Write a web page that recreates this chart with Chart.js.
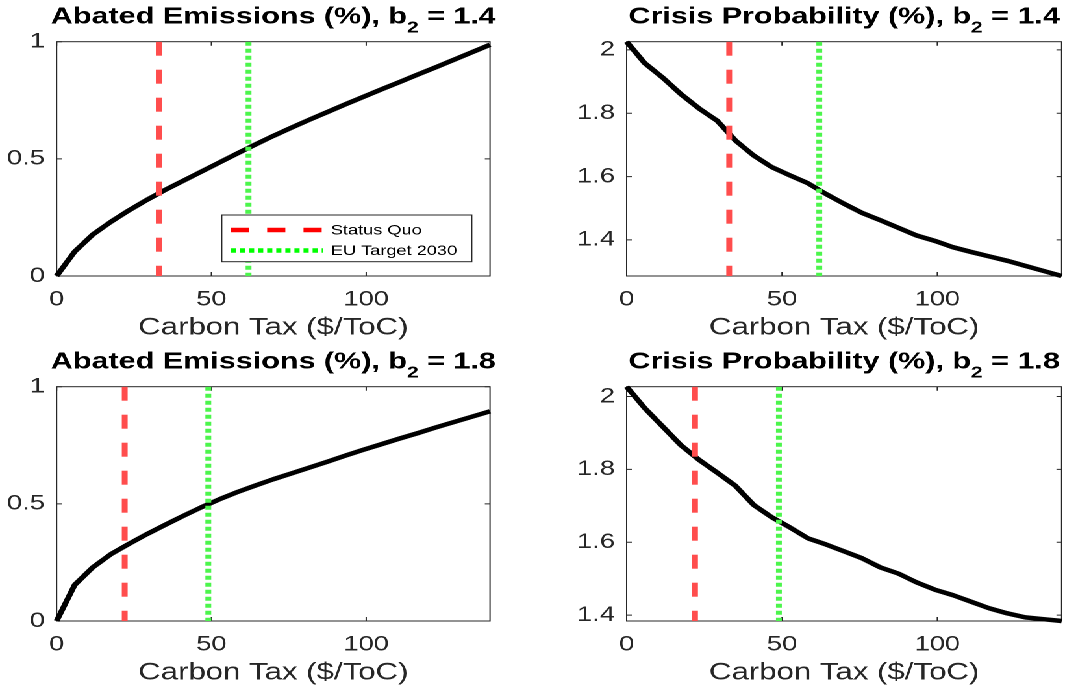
<!DOCTYPE html>
<html>
<head>
<meta charset="utf-8">
<script src="https://cdn.jsdelivr.net/npm/chart.js@4.4.1/dist/chart.umd.min.js"></script>
<style>
  html, body { margin: 0; padding: 0; background: #fff; overflow: hidden; }
  /* figure is laid out at 820px and widened to the 1065px page */
  #stage { position: absolute; left: 0; top: 0; width: 820px; height: 691px;
           transform: scaleX(1.29878); transform-origin: 0 0; }
  .panel { position: absolute; width: 410px; height: 345px; }
</style>
</head>
<body>
<div id="stage">
  <div class="panel" style="left:0;top:0"><canvas id="abated14"></canvas></div>
  <div class="panel" style="left:410px;top:0"><canvas id="crisis14"></canvas></div>
  <div class="panel" style="left:0;top:345px"><canvas id="abated18"></canvas></div>
  <div class="panel" style="left:410px;top:345px"><canvas id="crisis18"></canvas></div>
</div>
<script>
// Carbon tax grid ($/ToC)
const taxGrid = [0, 5.83, 11.67, 17.5, 23.33, 29.17, 35, 40.83, 46.67, 52.5, 58.33, 64.17,
                 70, 75.83, 81.67, 87.5, 93.33, 99.17, 105, 110.83, 116.67, 122.5, 128.33, 134.17, 140];

// Abated emissions (%)
const abatedB14 = [0, 0.104, 0.177, 0.231, 0.280, 0.325, 0.367, 0.406, 0.445, 0.484, 0.523, 0.561,
                   0.598, 0.633, 0.667, 0.700, 0.733, 0.765, 0.797, 0.828, 0.860, 0.891, 0.923, 0.955, 0.987];
const abatedB18 = [0, 0.154, 0.229, 0.285, 0.329, 0.371, 0.410, 0.448, 0.485, 0.519, 0.550, 0.578,
                   0.605, 0.630, 0.655, 0.680, 0.706, 0.731, 0.755, 0.779, 0.802, 0.826, 0.849, 0.872, 0.895];

// Crisis probability (%)
const crisisB14 = [2.026, 1.958, 1.912, 1.860, 1.815, 1.776, 1.714, 1.667, 1.630, 1.604, 1.579, 1.545,
                   1.514, 1.485, 1.462, 1.438, 1.414, 1.397, 1.377, 1.362, 1.348, 1.334, 1.318, 1.302, 1.286];
const crisisB18 = [2.027, 1.968, 1.917, 1.866, 1.826, 1.791, 1.755, 1.703, 1.669, 1.641, 1.611, 1.594,
                   1.575, 1.556, 1.531, 1.514, 1.490, 1.470, 1.455, 1.437, 1.419, 1.405, 1.394, 1.389, 1.384];

// Policy reference taxes, for b2 = 1.4 and b2 = 1.8
const b2Values = ['1.4', '1.8'];
const statusQuoTax = [33, 22];
const euTarget2030Tax = [62, 49];

// Tick labels
const taxTicks = [0, 50, 100];
const abatedTicks = [0, 0.5, 1];
const crisisTicks = [1.4, 1.6, 1.8, 2];

const FONT = '"Liberation Sans", Arial, Helvetica, sans-serif';
const AXIS_COLOR = '#262626';

// Box around the axes with inward tick marks on all four sides
const axesBox = {
  id: 'axesBox',
  beforeDatasetsDraw(chart) {
    const { ctx, chartArea: a, scales } = chart;
    const tl = 4;
    ctx.save();
    ctx.strokeStyle = AXIS_COLOR;
    ctx.lineWidth = 1;
    ctx.strokeRect(a.left, a.top, a.right - a.left, a.bottom - a.top);
    ctx.beginPath();
    scales.x.ticks.forEach(t => {
      const px = scales.x.getPixelForValue(t.value);
      ctx.moveTo(px, a.bottom); ctx.lineTo(px, a.bottom - tl);
      ctx.moveTo(px, a.top); ctx.lineTo(px, a.top + tl);
    });
    scales.y.ticks.forEach(t => {
      const py = scales.y.getPixelForValue(t.value);
      ctx.moveTo(a.left, py); ctx.lineTo(a.left + tl, py);
      ctx.moveTo(a.right, py); ctx.lineTo(a.right - tl, py);
    });
    ctx.stroke();
    ctx.restore();
  }
};

// Bold title with a subscript, centred over the axes
const panelTitle = {
  id: 'panelTitle',
  afterDraw(chart, args, opts) {
    const { ctx, chartArea: a } = chart;
    const main = 'bold 23.5px ' + FONT, sub = 'bold 16px ' + FONT;
    ctx.save();
    ctx.fillStyle = '#000';
    ctx.textBaseline = 'alphabetic';
    ctx.textAlign = 'left';
    ctx.font = main;
    const w1 = ctx.measureText(opts.lead).width;
    const w3 = ctx.measureText(opts.tail).width;
    ctx.font = sub;
    const w2 = ctx.measureText(opts.sub).width;
    let x = (a.left + a.right) / 2 - (w1 + w2 + w3) / 2;
    const y = 23.5;
    ctx.font = main; ctx.fillText(opts.lead, x, y); x += w1;
    ctx.font = sub; ctx.fillText(opts.sub, x, y + 9); x += w2;
    ctx.font = main; ctx.fillText(opts.tail, x, y);
    ctx.restore();
  }
};

// Boxed legend in the lower right of the axes
const boxLegend = {
  id: 'boxLegend',
  afterDraw(chart, args, opts) {
    if (!opts.show) return;
    const { ctx, chartArea: a } = chart;
    const w = 192.5, h = 46.7;
    const left = a.right - 14.1 - w, top = a.bottom - 14.3 - h;
    ctx.save();
    ctx.fillStyle = '#fff';
    ctx.fillRect(left, top, w, h);
    ctx.strokeStyle = AXIS_COLOR;
    ctx.lineWidth = 1;
    ctx.strokeRect(left, top, w, h);
    const items = chart.data.datasets.filter(d => d.legendColor);
    items.forEach((d, i) => {
      const cy = top + 15 + i * 20.5;
      ctx.beginPath();
      ctx.strokeStyle = d.legendColor;
      ctx.lineWidth = 4.5;
      ctx.lineCap = 'butt';
      ctx.setLineDash(d.borderDash);
      ctx.moveTo(left + 7, cy);
      ctx.lineTo(left + 78, cy);
      ctx.stroke();
      ctx.setLineDash([]);
      ctx.fillStyle = '#000';
      ctx.font = '14px ' + FONT;
      ctx.textBaseline = 'middle';
      ctx.fillText(d.label, left + 84, cy + 0.5);
    });
    ctx.restore();
  }
};

function makePanel(id, lead, b2, series, yTicks, yRange, sq, eu, yAxisWidth, rightPad, showLegend) {
  const [yMin, yMax] = yRange;
  new Chart(document.getElementById(id), {
    type: 'line',
    data: {
      datasets: [
        { label: 'Status Quo', data: [{ x: sq, y: yMax }, { x: sq, y: yMin }],
          borderColor: '#ff4d4d', legendColor: '#ff0000', borderWidth: 4.5,
          borderDash: [14, 14], borderCapStyle: 'butt', pointRadius: 0 },
        { label: 'EU Target 2030', data: [{ x: eu, y: yMax }, { x: eu, y: yMin }],
          borderColor: '#4cf54c', legendColor: '#00ff00', borderWidth: 4.5,
          borderDash: [4, 3], borderCapStyle: 'butt', pointRadius: 0 },
        { label: lead, data: taxGrid.map((x, i) => ({ x, y: series[i] })),
          borderColor: '#000', borderWidth: 4.5, pointRadius: 0, clip: false,
          borderJoinStyle: 'round', tension: 0 }
      ]
    },
    options: {
      responsive: true, maintainAspectRatio: false, animation: false,
      devicePixelRatio: 2,
      layout: { padding: { top: 41.7, right: rightPad, bottom: 0, left: 0 } },
      scales: {
        x: {
          type: 'linear', min: 0, max: 140,
          afterBuildTicks: s => { s.ticks = taxTicks.map(v => ({ value: v })); },
          afterFit: s => { s.height = 69; },
          grid: { display: false, drawTicks: false }, border: { display: false },
          ticks: { color: AXIS_COLOR, font: { family: FONT, size: 21 }, padding: 11,
                   maxRotation: 0, autoSkip: false, callback: v => String(v) },
          title: { display: true, text: 'Carbon Tax ($/ToC)', color: AXIS_COLOR,
                   font: { family: FONT, size: 24 }, padding: { top: 0, bottom: 2.5 } }
        },
        y: {
          type: 'linear', min: yMin, max: yMax,
          afterBuildTicks: s => { s.ticks = yTicks.map(v => ({ value: v })); },
          afterFit: s => { s.width = yAxisWidth; },
          grid: { display: false, drawTicks: false }, border: { display: false },
          ticks: { color: AXIS_COLOR, font: { family: FONT, size: 21 }, padding: 9,
                   autoSkip: false, callback: v => String(v) }
        }
      },
      plugins: {
        legend: { display: false },
        tooltip: { enabled: false },
        panelTitle: { lead: lead + ', b', sub: '2', tail: ' = ' + b2 },
        boxLegend: { show: showLegend }
      }
    },
    plugins: [axesBox, panelTitle, boxLegend]
  });
}

const abatedRange = [abatedTicks[0], abatedTicks[abatedTicks.length - 1]];
const crisisRange14 = [Math.min(...crisisB14), Math.max(...crisisB14)];
const crisisRange18 = [Math.min(...crisisB18), Math.max(...crisisB18)];

makePanel('abated14', 'Abated Emissions (%)', b2Values[0], abatedB14, abatedTicks, abatedRange,
          statusQuoTax[0], euTarget2030Tax[0], 43.6, 32.7, true);
makePanel('crisis14', 'Crisis Probability (%)', b2Values[0], crisisB14, crisisTicks, crisisRange14,
          statusQuoTax[0], euTarget2030Tax[0], 72.5, 2.6, false);
makePanel('abated18', 'Abated Emissions (%)', b2Values[1], abatedB18, abatedTicks, abatedRange,
          statusQuoTax[1], euTarget2030Tax[1], 43.6, 32.7, false);
makePanel('crisis18', 'Crisis Probability (%)', b2Values[1], crisisB18, crisisTicks, crisisRange18,
          statusQuoTax[1], euTarget2030Tax[1], 72.5, 2.6, false);
</script>
</body>
</html>
